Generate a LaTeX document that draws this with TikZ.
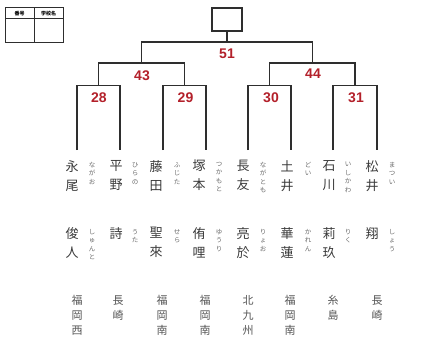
\documentclass[tikz,border=0pt]{standalone}
\usepackage{fontspec}
\setmainfont{Noto Sans CJK JP}
\newfontfamily\numf{Liberation Sans}
\usetikzlibrary{calc}
\definecolor{ln}{HTML}{2E2E2E}
\definecolor{scr}{HTML}{B3202A}
\definecolor{nm}{HTML}{3A3A3A}
\definecolor{fg}{HTML}{6A6A6A}
\definecolor{sc}{HTML}{555555}
\tikzset{
  br/.style={draw=ln, line width=1.3pt},
  score/.style={text=scr, font=\numf\bfseries\fontsize{14}{14}\selectfont, inner sep=0pt},
  kname/.style={text=nm, font=\fontsize{13}{19}\selectfont, align=center, inner sep=0pt, anchor=north},
  furi/.style={text=fg, font=\fontsize{6.5}{8.5}\selectfont, align=center, inner sep=0pt, anchor=north},
  school/.style={text=sc, font=\fontsize{11}{15}\selectfont, align=center, inner sep=0pt, anchor=north},
  hdr/.style={font=\bfseries\fontsize{5}{5}\selectfont, inner sep=0pt}
}
\begin{document}
\begin{tikzpicture}[x=1pt,y=-1pt]
\useasboundingbox (0,0) rectangle (425,361);
% legend table top-left
\node[draw=ln, line width=1pt, minimum width=58pt, minimum height=35pt, inner sep=0pt] (tab) at (34,25.5) {};
\coordinate (tabL) at (5,19);
\coordinate (tabR) at (63,19);
\coordinate (tabT) at (34,8);
\coordinate (tabB) at (34,43);
\draw[draw=ln, line width=1pt] (tabL) -- (tabR);
\draw[draw=ln, line width=1pt] (tabT) -- (tabB);
\node[hdr] (h1) at (19.5,13.5) {番号};
\node[hdr] (h2) at (48.5,13.5) {学校名};
% winner box
\node[draw=ln, line width=1.3pt, minimum width=30pt, minimum height=23pt, inner sep=0pt] (top) at (227,19.5) {};
% leaves
\foreach \i/\x in {1/77,2/120,3/163,4/206,5/248,6/291,7/333,8/377}{
  \coordinate (t\i) at (\x,85.5);
  \coordinate (b\i) at (\x,150);
}
\draw[br] (b1) -- (t1) -- (t2) -- (b2);
\draw[br] (b3) -- (t3) -- (t4) -- (b4);
\draw[br] (b5) -- (t5) -- (t6) -- (b6);
\draw[br] (b7) -- (t7) -- (t8) -- (b8);
\coordinate (m1) at ($(t1)!.5!(t2)$);
\coordinate (m2) at ($(t3)!.5!(t4)$);
\coordinate (m3) at ($(t5)!.5!(t6)$);
\coordinate (m4) at ($(t7)!.5!(t8)$);
\coordinate (n1) at ($(m1)+(0,-22.5)$);
\coordinate (n2) at ($(m2)+(0,-22.5)$);
\coordinate (n3) at ($(m3)+(0,-22.5)$);
\coordinate (n4) at ($(m4)+(0,-22.5)$);
\draw[br] (m1) -- (n1) -- (n2) -- (m2);
\draw[br] (m3) -- (n3) -- (n4) -- (m4);
\coordinate (q1) at ($(n1)!.5!(n2)$);
\coordinate (q2) at ($(n3)!.5!(n4)$);
\coordinate (p1) at ($(q1)+(0,-21)$);
\coordinate (p2) at ($(q2)+(0,-21)$);
\draw[br] (q1) -- (p1) -- (p2) -- (q2);
\coordinate (r) at (227,42);
\draw[br] (top.south) -- (r);
% scores
\node[score] (s51) at (227,54) {51};
\node[score] (s43) at (142,76) {43};
\node[score] (s44) at (313,74) {44};
\node[score] (s28) at (99,98) {28};
\node[score] (s29) at (185.5,98) {29};
\node[score] (s30) at (271,98) {30};
\node[score] (s31) at (356,98) {31};
% names
\foreach \i/\k/\f/\sn/\sf/\gn/\gf/\sch in {
  1/72/92/{永\\尾}/{な\\が\\お}/{俊\\人}/{し\\ゅ\\ん\\と}/{福\\岡\\西},
  2/116/135/{平\\野}/{ひ\\ら\\の}/{詩}/{う\\た}/{長\\崎},
  3/156/177/{藤\\田}/{ふ\\じ\\た}/{聖\\來}/{せ\\ら}/{福\\岡\\南},
  4/199/219/{塚\\本}/{つ\\か\\も\\と}/{侑\\哩}/{ゆ\\う\\り}/{福\\岡\\南},
  5/243/263/{長\\友}/{な\\が\\と\\も}/{亮\\於}/{り\\ょ\\お}/{北\\九\\州},
  6/287/308/{土\\井}/{ど\\い}/{華\\蓮}/{か\\れ\\ん}/{福\\岡\\南},
  7/329/348/{石\\川}/{い\\し\\か\\わ}/{莉\\玖}/{り\\く}/{糸\\島},
  8/372/392/{松\\井}/{ま\\つ\\い}/{翔}/{し\\ょ\\う}/{長\\崎}}{
  \node[kname] (sn\i) at (\k,160) {\sn};
  \node[furi] (sf\i) at (\f,162) {\sf};
  \node[kname] (gn\i) at (\k,227) {\gn};
  \node[furi] (gf\i) at (\f,229) {\gf};
}
\foreach \i/\x/\sch in {1/77/{福\\岡\\西},2/118/{長\\崎},3/162/{福\\岡\\南},4/205/{福\\岡\\南},5/248/{北\\九\\州},6/290/{福\\岡\\南},7/333/{糸\\島},8/377/{長\\崎}}{
  \node[school] (sc\i) at (\x,295) {\sch};
}
\end{tikzpicture}
\end{document}
